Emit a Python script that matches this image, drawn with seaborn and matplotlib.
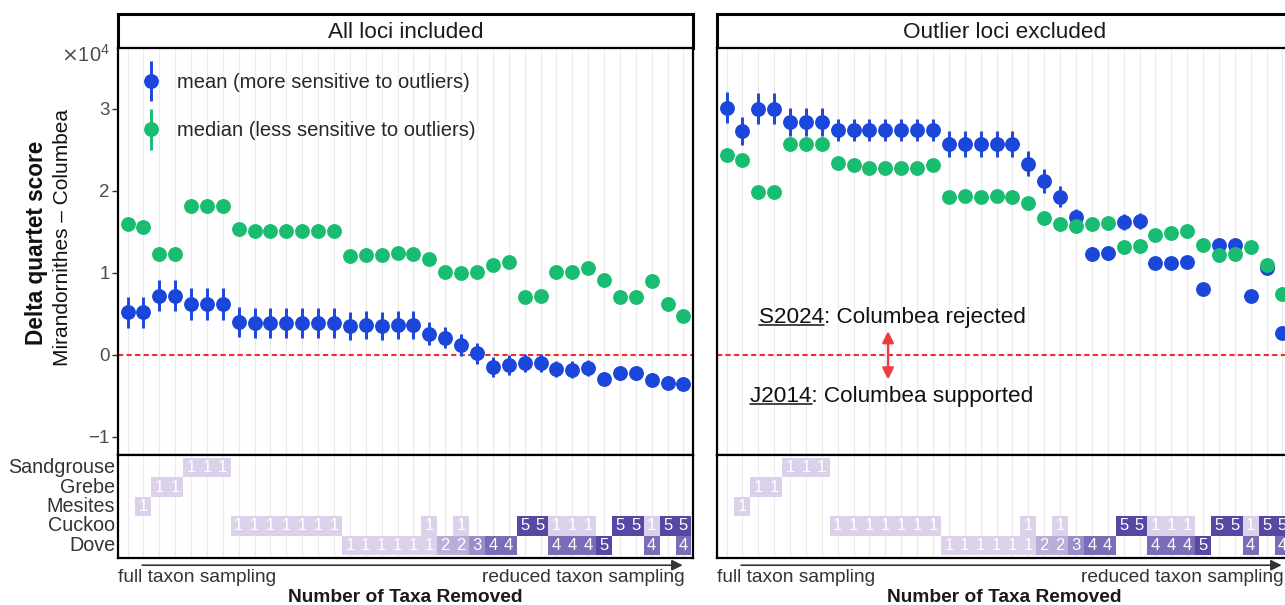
import numpy as np
import pandas as pd
import seaborn as sns
import matplotlib.pyplot as plt
from matplotlib.colors import ListedColormap
from matplotlib.container import ErrorbarContainer
from matplotlib.legend_handler import HandlerErrorbar
from matplotlib.lines import Line2D

# number of taxa removed (x position index)
cols = list(range(36))

# delta quartet score, in units of 1e4
all_mean = [0.52, 0.52, 0.72, 0.72, 0.62, 0.62, 0.62,
            0.40, 0.39, 0.39, 0.39, 0.39, 0.39, 0.39,
            0.35, 0.36, 0.35, 0.36, 0.36, 0.26, 0.21, 0.12, 0.02,
            -0.15, -0.12, -0.10, -0.10, -0.17, -0.18, -0.16, -0.29,
            -0.22, -0.22, -0.30, -0.34, -0.35]
all_mean_err = [0.19] * 7 + [0.18] * 7 + [0.17] * 5 + \
               [0.14, 0.13, 0.13, 0.13, 0.12, 0.12, 0.11, 0.11] + [0.10] * 3 + [0.08] * 6
all_median = [1.60, 1.56, 1.23, 1.23, 1.82, 1.82, 1.82,
              1.54, 1.51, 1.51, 1.51, 1.51, 1.51, 1.51,
              1.21, 1.22, 1.22, 1.24, 1.23, 1.17, 1.01, 1.00, 1.01,
              1.09, 1.13, 0.70, 0.72, 1.01, 1.01, 1.06, 0.91,
              0.71, 0.71, 0.90, 0.62, 0.48]

excl_mean = [3.01, 2.73, 3.00, 3.00, 2.84, 2.84, 2.84,
             2.74, 2.74, 2.74, 2.74, 2.74, 2.74, 2.74,
             2.57, 2.57, 2.57, 2.57, 2.57, 2.33, 2.12, 1.93, 1.68,
             1.23, 1.24, 1.62, 1.63, 1.12, 1.12, 1.13, 0.80,
             1.34, 1.34, 0.72, 1.06, 0.27]
excl_mean_err = [0.19, 0.17, 0.19, 0.19, 0.17, 0.17, 0.17] + [0.13] * 7 + [0.16] * 5 + \
                [0.15, 0.15, 0.13, 0.10, 0.08, 0.08, 0.10, 0.10] + [0.06] * 9
excl_median = [2.43, 2.37, 1.98, 1.98, 2.57, 2.57, 2.57,
               2.34, 2.32, 2.28, 2.28, 2.28, 2.28, 2.32,
               1.93, 1.94, 1.93, 1.94, 1.93, 1.85, 1.67, 1.60, 1.57,
               1.60, 1.61, 1.32, 1.33, 1.46, 1.48, 1.51, 1.34,
               1.22, 1.23, 1.32, 1.10, 0.74]

# taxa removed from each clade per column
taxa = ['Sandgrouse', 'Grebe', 'Mesites', 'Cuckoo', 'Dove']
n = np.nan
sandgrouse = [n] * 4 + [1, 1, 1] + [n] * 29
grebe = [n] * 2 + [1, 1] + [n] * 32
mesites = [n, 1] + [n] * 34
cuckoo = [n] * 7 + [1] * 7 + [n] * 5 + [1, n, 1, n, n, n, 5, 5, 1, 1, 1, n, 5, 5, 1, 5, 5]
dove = [n] * 14 + [1] * 6 + [2, 2, 3, 4, 4, n, n, 4, 4, 4, 5, n, n, 4, n, 4]

panels = ['All loci included', 'Outlier loci excluded']

BLUE = '#1b46da'
GREEN = '#18bd72'
tile_cmap = ListedColormap(['#dcd1ea', '#b8aed8', '#9a8dc8', '#7b6cb8', '#5748a3'])

sns.set_theme(style='white')
plt.rcParams['font.family'] = ['Liberation Sans', 'DejaVu Sans']

W, H = 1285, 605
fig = plt.figure(figsize=(W / 100, H / 100), dpi=100)


def px_axes(x0, y0, x1, y1):
    return fig.add_axes([x0 / W, 1 - y1 / H, (x1 - x0) / W, (y1 - y0) / H])


tiles = pd.DataFrame([sandgrouse, grebe, mesites, cuckoo, dove], index=taxa, columns=cols)


def draw_panel(x0, title, mean, mean_err, median, first):
    x1 = x0 + 575
    ax_s = px_axes(x0, 14, x1, 48)
    ax = px_axes(x0, 48, x1, 455)
    axt = px_axes(x0, 455, x1, 558)

    # strip
    ax_s.set_xticks([])
    ax_s.set_yticks([])
    for s in ax_s.spines.values():
        s.set_color('black')
        s.set_linewidth(2.2)
    ax_s.text(0.5, 0.47, title, ha='center', va='center', fontsize=16.2,
              transform=ax_s.transAxes, color='#1a1a1a')

    # main panel
    ax.set_xlim(-0.6, 35.6)
    ax.set_ylim(-1.22, 3.74)
    ax.set_xticks(cols)
    ax.grid(axis='x', color='#ebebeb', lw=0.8)
    ax.grid(axis='y', visible=False)
    ax.set_axisbelow(True)
    ax.tick_params(axis='x', length=0, labelbottom=False)
    ax.set_yticks([-1, 0, 1, 2, 3])
    if first:
        ax.set_yticklabels(['\u22121', '0', '1', '2', '3'])
        ax.tick_params(axis='y', left=True, length=4, width=1, color='#333333',
                       labelsize=13.5, labelcolor='#4d4d4d', pad=2)
    else:
        ax.tick_params(axis='y', left=False, labelleft=False)
    for s in ax.spines.values():
        s.set_color('black')
        s.set_linewidth(1.6)

    ax.axhline(0, color='#f52a2a', ls=(0, (2.5, 1.6)), lw=1.5, zorder=2)
    h_mean = ax.errorbar(cols, mean, yerr=mean_err, fmt='o', color=BLUE, ms=10.7, mew=0,
                         elinewidth=2.1, capsize=0, zorder=3,
                         label='mean (more sensitive to outliers)')
    h_med = ax.errorbar(cols, median, yerr=np.zeros(len(cols)), fmt='o', color=GREEN, ms=10.7,
                        mew=0, elinewidth=2.1, capsize=0, zorder=4,
                        label='median (less sensitive to outliers)')
    if first:
        ax.legend(handles=[h_mean, h_med], loc='upper left', bbox_to_anchor=(0.04, 0.938),
                  frameon=False, fontsize=14.5, handlelength=1.0, handletextpad=0.8,
                  labelspacing=1.45, borderpad=0, borderaxespad=0,
                  handler_map={ErrorbarContainer: HandlerErrorbar(yerr_size=1.0)})

    # tile panel
    sns.heatmap(tiles, ax=axt, cmap=tile_cmap, vmin=0.5, vmax=5.5, cbar=False,
                annot=True, fmt='.0f', annot_kws={'color': 'white', 'fontsize': 12})
    axt.set_xlim(-0.1, 36.1)
    axt.set_ylim(5.15, -0.15)
    axt.set_xlabel('')
    axt.set_ylabel('')
    axt.set_xticks(np.arange(36) + 0.5)
    axt.set_xticks([0.5], minor=True)
    axt.grid(axis='x', which='major', color='#ebebeb', lw=0.8)
    axt.set_axisbelow(True)
    axt.tick_params(axis='x', which='major', length=0, labelbottom=False)
    axt.tick_params(axis='x', which='minor', bottom=True, length=5, width=1.2,
                    color='#333333', direction='out')
    axt.set_yticks(np.arange(5) + 0.5)
    if first:
        axt.set_yticklabels(taxa, rotation=0)
        axt.tick_params(axis='y', length=0, pad=2, labelsize=14.2, labelcolor='#333333')
    else:
        axt.tick_params(axis='y', length=0, labelleft=False)
    for s in axt.spines.values():
        s.set_visible(True)
        s.set_color('black')
        s.set_linewidth(1.6)

    axt.annotate('', xy=(0.982, -0.07), xytext=(0.042, -0.07), xycoords='axes fraction',
                 arrowprops=dict(arrowstyle='-|>', color='#333333', lw=1.2,
                                 mutation_scale=16, shrinkA=0, shrinkB=0),
                 annotation_clip=False)
    axt.text(0.0, -0.19, 'full taxon sampling', ha='left', va='center', fontsize=13.8,
             color='#333333', transform=axt.transAxes)
    axt.text(0.986, -0.19, 'reduced taxon sampling', ha='right', va='center', fontsize=13.8,
             color='#333333', transform=axt.transAxes)
    axt.text(0.5, -0.385, 'Number of Taxa Removed', ha='center', va='center', fontsize=13.8,
             weight='bold', color='#1a1a1a', transform=axt.transAxes)
    return ax


ax_left = draw_panel(118, panels[0], all_mean, all_mean_err, all_median, True)
ax_right = draw_panel(717, panels[1], excl_mean, excl_mean_err, excl_median, False)

renderer = fig.canvas.get_renderer()


def underlined_note(ax, x, y, key, rest, size=16.2):
    t = ax.text(x, y, key + rest, ha='center', va='baseline', fontsize=size, color='#111111')
    bb = t.get_window_extent(renderer)
    tmp = ax.text(x, y, key, fontsize=size)
    kw = tmp.get_window_extent(renderer).width
    tmp.remove()
    yb = ax.transData.transform((x, y))[1] - 2
    fig.add_artist(Line2D([bb.x0 / W, (bb.x0 + kw) / W], [yb / H, yb / H],
                          transform=fig.transFigure, color='#111111', lw=1.1))


underlined_note(ax_right, 10.42, 0.39, 'S2024', ': Columbea rejected')
underlined_note(ax_right, 10.42, -0.573, 'J2014', ': Columbea supported')
ax_right.annotate('', xy=(10.17, 0.29), xytext=(10.17, -0.30),
                  arrowprops=dict(arrowstyle='<|-|>', color='#f03c3c', lw=1.7,
                                  mutation_scale=17, shrinkA=0, shrinkB=0))

fig.text(110 / W, 1 - 55 / H, r'$\times\mathregular{10^4}$', ha='right', va='center',
         fontsize=14.5, color='#4d4d4d')
fig.text(37 / W, 1 - 243 / H, 'Delta quartet score', rotation=90, ha='center', va='center',
         fontsize=16.3, weight='bold', color='#111111')
fig.text(62 / W, 1 - 238 / H, 'Mirandornithes \u2013 Columbea', rotation=90, ha='center',
         va='center', fontsize=15, color='#111111')

fig.savefig('out.png', dpi=100)
